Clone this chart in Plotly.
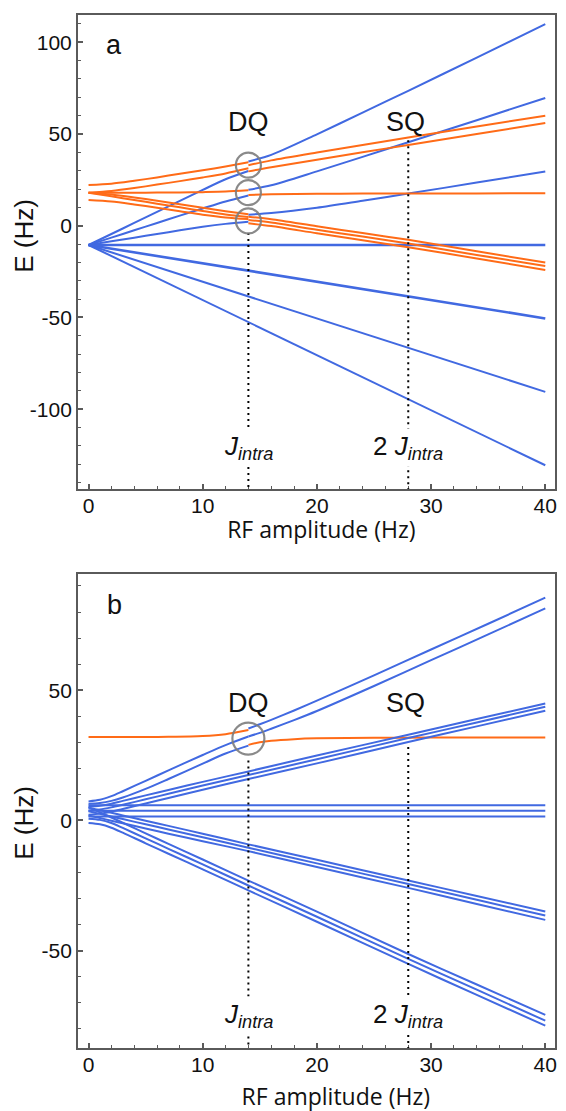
import plotly.graph_objects as go

W, H = 566, 1111
BLUE = "#4169E1"
ORANGE = "#FF6B17"
FRAME = "#5a5a5a"
CIRCLE = "rgba(125,125,125,0.9)"

J_INTRA = 14
SQ_X = 28

# ---------------- panel a : values ----------------
A_XF = [0, 14, 28, 40]
A_BLUE_M0 = [-10.5, -10.5, -10.5, -10.5]
A_BLUE_MN1 = [-10.5, -24.5, -38.5, -50.5]
A_BLUE_MN2 = [-10.5, -38.5, -66.5, -90.5]
A_BLUE_MN3 = [-10.5, -52.5, -94.5, -130.5]

A_XL = [0, 2, 4, 6, 8, 10, 12, 14]
A_BLUE_M1_L = [-10.5, -8.5, -6.5, -4.5, -2.5, -0.6, 1.0, 2.2]
A_BLUE_M2_L = [-10.5, -6.5, -2.5, 1.5, 5.5, 9.4, 13.2, 16.5]
A_BLUE_M3_L = [-10.5, -4.5, 1.5, 7.5, 13.5, 19.5, 25.3, 29.8]
A_OR_A_L = [22.2, 22.9, 24.5, 26.3, 28.3, 30.2, 32.3, 34.6]
A_OR_B_L = [18.0, 18.9, 20.5, 22.4, 24.3, 26.3, 28.5, 31.3]
A_OR_F_L = [18.0, 18.0, 18.0, 18.05, 18.1, 18.3, 18.6, 19.3]
A_OR_C_L = [18.0, 17.0, 15.4, 13.6, 11.7, 9.8, 7.9, 6.2]
A_OR_D_L = [18.0, 16.0, 14.0, 12.0, 10.0, 8.0, 6.1, 4.8]
A_OR_E_L = [14.0, 13.2, 11.6, 9.8, 7.9, 6.0, 4.5, 3.6]

A_XR = [14, 16, 20, 24, 28, 34, 40]
A_BLUE_M1_R = [6.0, 6.9, 9.8, 13.6, 17.5, 23.5, 29.5]
A_BLUE_M2_R = [19.6, 22.0, 29.6, 37.5, 45.5, 57.5, 69.6]
A_BLUE_M3_R = [35.0, 38.6, 49.8, 61.6, 73.5, 91.6, 109.8]
A_OR_A_R = [33.0, 35.6, 39.9, 44.0, 48.1, 54.1, 59.9]
A_OR_B_R = [29.6, 31.9, 35.9, 40.0, 44.0, 50.0, 55.9]
A_OR_F_R = [16.8, 17.1, 17.4, 17.5, 17.6, 17.6, 17.7]
A_OR_C_R = [4.9, 3.5, -0.3, -4.0, -7.7, -13.9, -20.1]
A_OR_D_R = [3.1, 1.7, -2.2, -5.9, -9.7, -15.9, -22.0]
A_OR_E_R = [1.3, -0.2, -4.1, -7.9, -11.7, -17.9, -24.1]

A_CIRCLE_Y = [33.0, 18.0, 2.6]
A_DOT_TOP = [-4.0, 46.6]
A_LABEL_Y = 56.7
A_J_Y = -120.6

# ---------------- panel b : values ----------------
B_XL = [0, 1, 2, 3, 5, 7, 10, 12, 14]
B_P1_L = [7.3, 7.9, 9.3, 11.2, 15.2, 19.2, 25.1, 28.9, 32.2]
B_P2_L = [6.4, 6.7, 7.5, 8.8, 12.1, 15.9, 21.8, 25.7, 28.7]
B_OR_L = [32.0, 32.0, 32.0, 32.0, 32.05, 32.1, 32.4, 33.1, 34.7]

B_XR = [14, 15, 16, 18, 20, 25, 30, 35, 40]
B_P1_R = [35.3, 36.9, 38.6, 42.2, 46.0, 55.7, 65.6, 75.5, 85.5]
B_P2_R = [32.2, 33.6, 35.2, 38.5, 42.0, 51.6, 61.5, 71.4, 81.4]
B_OR_R = [29.0, 30.0, 30.6, 31.2, 31.5, 31.7, 31.8, 31.8, 31.8]

B_XF = [0, 1, 2, 3, 5, 7, 10, 14, 20, 28, 34, 40]
B_T1 = [5.2, 5.6, 6.4, 7.5, 9.6, 11.7, 14.8, 18.8, 24.9, 32.9, 38.9, 44.9]
B_T2 = [3.8, 4.2, 5.0, 6.0, 8.1, 10.2, 13.4, 17.4, 23.5, 31.6, 37.6, 43.6]
B_T3 = [2.2, 2.6, 3.3, 4.4, 6.5, 8.6, 11.8, 15.9, 21.9, 30.1, 36.1, 42.1]
B_D1 = [4.9, 3.9, 2.9, 1.9, -0.1, -2.1, -5.1, -9.2, -15.1, -23.1, -29.0, -35.0]
B_D2 = [3.5, 2.5, 1.5, 0.5, -1.5, -3.5, -6.5, -10.5, -16.5, -24.4, -30.5, -36.5]
B_D3 = [1.9, 0.9, -0.1, -1.1, -3.1, -5.1, -8.0, -11.8, -17.9, -25.9, -32.1, -38.2]
B_S1 = [5.0, 3.1, 1.1, -0.9, -5.0, -9.0, -15.0, -23.1, -35.0, -51.3, -63.0, -74.7]
B_S2 = [0.65, 0.2, -1.0, -2.9, -6.9, -10.9, -16.9, -25.0, -37.0, -53.2, -65.0, -76.9]
B_S3 = [-1.0, -1.5, -2.8, -4.7, -8.8, -12.8, -18.8, -26.9, -38.9, -55.1, -67.0, -78.8]

B_XFLAT = [0, 40]
B_F1 = [5.8, 5.8]
B_F2 = [3.7, 3.7]
B_F3 = [1.5, 1.5]

B_CIRCLE_Y = [31.4]
B_DOT_TOP = [23.0, 28.2]
B_LABEL_Y = 45.0
B_J_Y = -75.0

X_TICKS = [0, 10, 20, 30, 40]
A_Y_TICKS = [-100, -50, 0, 50, 100]
B_Y_TICKS = [-50, 0, 50]

A_XRANGE = [-0.92, 40.81]
A_YRANGE = [-143.6, 114.8]
B_YRANGE = [-87.5, 94.6]

# ---------------- figure ----------------
fig = go.Figure()


def add_line(x, y, color, xa, ya, width=2.0, shape="spline"):
    fig.add_trace(go.Scatter(
        x=x, y=y, mode="lines", xaxis=xa, yaxis=ya,
        line=dict(color=color, width=width, shape=shape, smoothing=0.8),
        hoverinfo="skip", showlegend=False))


# panel a: blue first, orange on top
for yy, w in [(A_BLUE_MN3, 2.0), (A_BLUE_MN2, 2.0), (A_BLUE_MN1, 2.6), (A_BLUE_M0, 2.6)]:
    add_line(A_XF, yy, BLUE, "x", "y", w, "linear")
for yy in [A_BLUE_M1_L, A_BLUE_M2_L, A_BLUE_M3_L]:
    add_line(A_XL, yy, BLUE, "x", "y")
for yy in [A_BLUE_M1_R, A_BLUE_M2_R, A_BLUE_M3_R]:
    add_line(A_XR, yy, BLUE, "x", "y")
for yy in [A_OR_A_L, A_OR_B_L, A_OR_F_L, A_OR_C_L, A_OR_D_L, A_OR_E_L]:
    add_line(A_XL, yy, ORANGE, "x", "y")
for yy in [A_OR_A_R, A_OR_B_R, A_OR_F_R, A_OR_C_R, A_OR_D_R, A_OR_E_R]:
    add_line(A_XR, yy, ORANGE, "x", "y")

# panel b: orange first, blue on top
add_line(B_XL, B_OR_L, ORANGE, "x2", "y2")
add_line(B_XR, B_OR_R, ORANGE, "x2", "y2")
for yy in [B_P1_L, B_P2_L]:
    add_line(B_XL, yy, BLUE, "x2", "y2")
for yy in [B_P1_R, B_P2_R]:
    add_line(B_XR, yy, BLUE, "x2", "y2")
for yy in [B_T1, B_T2, B_T3, B_D1, B_D2, B_D3, B_S1, B_S2, B_S3]:
    add_line(B_XF, yy, BLUE, "x2", "y2")
for yy in [B_F1, B_F2, B_F3]:
    add_line(B_XFLAT, yy, BLUE, "x2", "y2", 2.0, "linear")

shapes = []
# dotted guide lines
for xv, top in zip([J_INTRA, SQ_X], A_DOT_TOP):
    shapes.append(dict(type="line", xref="x", yref="y", x0=xv, x1=xv, y0=top, y1=A_YRANGE[0],
                       line=dict(color="black", width=2, dash="2px,4px"), layer="above"))
for xv, top in zip([J_INTRA, SQ_X], B_DOT_TOP):
    shapes.append(dict(type="line", xref="x2", yref="y2", x0=xv, x1=xv, y0=top, y1=B_YRANGE[0],
                       line=dict(color="black", width=2, dash="2px,4px"), layer="above"))
# circles around avoided crossings
for cy in A_CIRCLE_Y:
    shapes.append(dict(type="circle", xref="x", yref="y", xsizemode="pixel", ysizemode="pixel",
                       xanchor=J_INTRA, yanchor=cy, x0=-12.5, x1=12.5, y0=-12.5, y1=12.5,
                       line=dict(color=CIRCLE, width=2.2), layer="above"))
for cy in B_CIRCLE_Y:
    shapes.append(dict(type="circle", xref="x2", yref="y2", xsizemode="pixel", ysizemode="pixel",
                       xanchor=J_INTRA, yanchor=cy, x0=-16, x1=16, y0=-16, y1=16,
                       line=dict(color=CIRCLE, width=2.2), layer="above"))

LBL = dict(family="Liberation Sans, Arial, sans-serif", size=27, color="#111")
JLBL = dict(family="Liberation Sans, Arial, sans-serif", size=26, color="#111")
TITLE_FONT = dict(family="Open Sans, sans-serif", size=23, color="#111")
YT_FONT = dict(family="Liberation Sans, Arial, sans-serif", size=26, color="#111")


def text_box(cx, cy, halfw, halfh, text, font, angle=0):
    """Invisible paper-space rectangle carrying a centred label (pixel centre cx, cy)."""
    return dict(type="rect", xref="paper", yref="paper",
                x0=(cx - halfw) / W, x1=(cx + halfw) / W,
                y0=1 - (cy + halfh) / H, y1=1 - (cy - halfh) / H,
                line=dict(width=0), fillcolor="rgba(0,0,0,0)",
                label=dict(text=text, font=font, textposition="middle center",
                           textangle=angle, padding=0))


shapes.append(text_box(322.5, 531, 120, 14, "RF amplitude (Hz)", TITLE_FONT))
shapes.append(text_box(337, 1098, 120, 12, "RF amplitude (Hz)", TITLE_FONT))
shapes.append(text_box(22, 236, 18, 50, "E (Hz)", YT_FONT, -90))
shapes.append(text_box(22, 823, 18, 50, "E (Hz)", YT_FONT, -90))

ann = []
for xr, yr, panel_lbl, lbl_pos, ly, jy in [("x", "y", "a", (2.2, 98.4), A_LABEL_Y, A_J_Y),
                                           ("x2", "y2", "b", (2.3, 82.7), B_LABEL_Y, B_J_Y)]:
    ann.append(dict(xref=xr, yref=yr, x=lbl_pos[0], y=lbl_pos[1], text=panel_lbl,
                    showarrow=False, font=LBL))
    ann.append(dict(xref=xr, yref=yr, x=J_INTRA, y=ly, text="DQ", showarrow=False, font=LBL))
    ann.append(dict(xref=xr, yref=yr, x=SQ_X - 0.2, y=ly, text="SQ", showarrow=False, font=LBL))
    ann.append(dict(xref=xr, yref=yr, x=J_INTRA, y=jy, text="<i>J</i><sub><i>intra</i></sub>",
                    showarrow=False, font=JLBL, bgcolor="white", borderpad=2))
    ann.append(dict(xref=xr, yref=yr, x=SQ_X, y=jy, text="2 <i>J</i><sub><i>intra</i></sub>",
                    showarrow=False, font=JLBL, bgcolor="white", borderpad=2))

TICKFONT = dict(family="Liberation Sans, Arial, sans-serif", size=21, color="#111")


def xaxis(anchor, domain):
    return dict(anchor=anchor, domain=domain, range=A_XRANGE, tickmode="array",
                tickvals=X_TICKS, ticktext=[str(v) for v in X_TICKS],
                ticks="inside", ticklen=5, tickwidth=1.5, tickcolor=FRAME,
                minor=dict(tickmode="linear", tick0=0, dtick=2, ticks="inside", ticklen=3,
                           tickwidth=1.2, tickcolor=FRAME),
                showline=True, linecolor=FRAME, linewidth=2, mirror=True,
                showgrid=False, zeroline=False, tickfont=TICKFONT, ticklabelstandoff=-4)


def yaxis(anchor, domain, rng, tv):
    return dict(anchor=anchor, domain=domain, range=rng, tickmode="array",
                tickvals=tv, ticktext=[str(v) for v in tv],
                ticks="inside", ticklen=5, tickwidth=1.5, tickcolor=FRAME,
                minor=dict(tickmode="linear", tick0=0, dtick=10, ticks="inside", ticklen=3,
                           tickwidth=1.2, tickcolor=FRAME),
                showline=True, linecolor=FRAME, linewidth=2, mirror=True,
                showgrid=False, zeroline=False, tickfont=TICKFONT)


XDOM = [78.3 / W, 556.5 / W]
fig.update_layout(
    width=W, height=H, margin=dict(l=0, r=0, t=0, b=0),
    paper_bgcolor="white", plot_bgcolor="white", showlegend=False,
    xaxis=xaxis("y", XDOM),
    yaxis=yaxis("x", [1 - 489.3 / H, 1 - 15 / H], A_YRANGE, A_Y_TICKS),
    xaxis2=xaxis("y2", XDOM),
    yaxis2=yaxis("x2", [1 - 1048.3 / H, 1 - 574 / H], B_YRANGE, B_Y_TICKS),
    shapes=shapes, annotations=ann,
)

fig.write_html("out.html")
